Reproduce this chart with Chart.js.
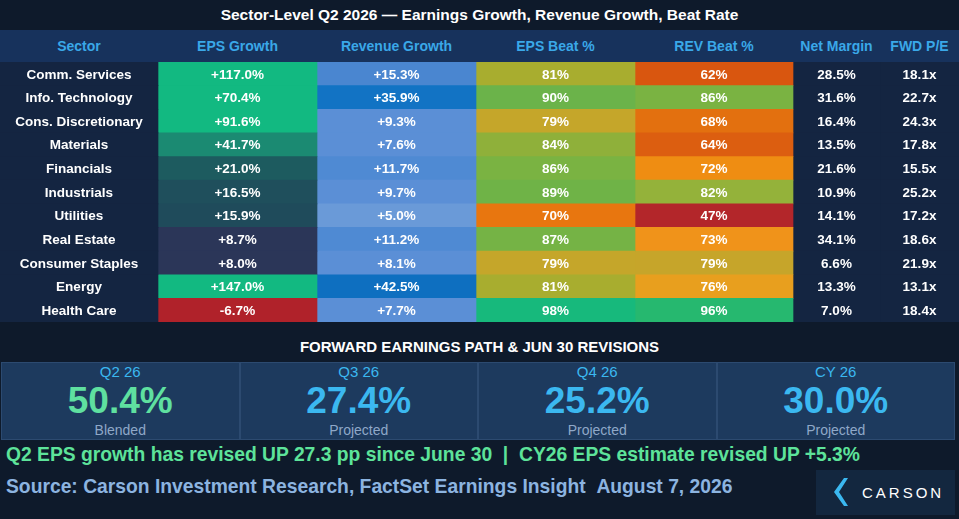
<!DOCTYPE html>
<html><head><meta charset="utf-8">
<script src="https://cdn.jsdelivr.net/npm/chart.js@4/dist/chart.umd.min.js"></script>
<style>
body{margin:0;width:959px;height:519px;background:#0e1a2b;font-family:"Liberation Sans",Arial,sans-serif;overflow:hidden;position:relative}
.abs{position:absolute}
#title{left:0;top:0;width:959px;height:30px;line-height:30px;text-align:center;color:#fff;font-weight:bold;font-size:15.5px}
#hdr{left:0;top:30px;width:959px;height:32px;background:#17325c}
#hdr div{position:absolute;top:0;height:32px;line-height:32px;text-align:center;color:#3aa8e8;font-weight:bold;font-size:14px}
#wrap{left:0;top:62px;width:959px;height:260px}
#sub{left:0;top:338px;width:959px;text-align:center;color:#fff;font-weight:bold;font-size:15px}
.pan{position:absolute;top:362px;height:78px;background:#1d3a5e;border:1px solid #2c4a70;box-sizing:border-box;text-align:center}
.pan .l{color:#3bb8f0;font-size:15px}
.pan .v{font-size:37px;font-weight:bold;color:#3bb8f0;line-height:42px}
.pan .s{color:#8fa8c8;font-size:14px}
#l1{left:6px;top:444px;color:#5de39a;font-weight:bold;font-size:19.3px;white-space:nowrap}
#l2{left:6px;top:476px;color:#8cb4e0;font-weight:bold;font-size:19.3px;white-space:nowrap}
#logo{left:816px;top:470px;width:139px;height:45px;background:#13273f;color:#fff;font-size:15px;letter-spacing:3px;line-height:45px}
</style></head><body>
<div id="title" class="abs">Sector-Level Q2 2026 — Earnings Growth, Revenue Growth, Beat Rate</div>
<div id="hdr" class="abs"></div>
<div id="wrap" class="abs"><canvas id="c"></canvas></div>
<div id="sub" class="abs">FORWARD EARNINGS PATH &amp; JUN 30 REVISIONS</div>
<div id="pans"></div>
<div id="l1" class="abs">Q2 EPS growth has revised UP 27.3 pp since June 30 &nbsp;|&nbsp; CY26 EPS estimate revised UP +5.3%</div>
<div id="l2" class="abs">Source: Carson Investment Research, FactSet Earnings Insight &nbsp;August 7, 2026</div>
<div id="logo" class="abs"><svg width="30" height="45" style="vertical-align:top;margin-left:10px"><polygon points="18,8 8,22 18,36 22,36 13,22 22,8" fill="#3bb8f0"/></svg><span style="margin-left:6px">CARSON</span></div>
<script>
const headers=["Sector","EPS Growth","Revenue Growth","EPS Beat %","REV Beat %","Net Margin","FWD P/E"];
const sectors=["Comm. Services","Info. Technology","Cons. Discretionary","Materials","Financials","Industrials","Utilities","Real Estate","Consumer Staples","Energy","Health Care"];
const epsGrowth=[117.0,70.4,91.6,41.7,21.0,16.5,15.9,8.7,8.0,147.0,-6.7];
const revGrowth=[15.3,35.9,9.3,7.6,11.7,9.7,5.0,11.2,8.1,42.5,7.7];
const epsBeat=[81,90,79,84,86,89,70,87,79,81,98];
const revBeat=[62,86,68,64,72,82,47,73,79,76,96];
const netMargin=[28.5,31.6,16.4,13.5,21.6,10.9,14.1,34.1,6.6,13.3,7.0];
const fwdPE=[18.1,22.7,24.3,17.8,15.5,25.2,17.2,18.6,21.9,13.1,18.4];
const epsColors=["#12b981","#12b981","#12b981","#1b8a72","#1d5b5f","#1f4f5c","#1f4b5b","#2b3658","#2b3658","#12b981","#b0222a"];
const revColors=["#4a86d0","#1273c4","#5b8fd6","#5b8fd6","#4f8ad3","#5b8fd6","#6a9ad8","#4f8ad3","#5b8fd6","#0e6fc0","#5b8fd6"];
const epsBeatColors=["#a8ad2f","#6bb34a","#c5a62a","#8fb03a","#7ab342","#6fb347","#e8760f","#75b345","#c5a62a","#a8ad2f","#17b97c"];
const revBeatColors=["#d9560f","#7ab342","#e3700f","#dc5e10","#ef8d12","#94b23a","#b3262a","#f0931a","#c6a52a","#e89f1e","#26b86f"];
const panelLabels=["Q2 26","Q3 26","Q4 26","CY 26"];
const panelValues=[50.4,27.4,25.2,30.0];
const panelSubs=["Blended","Projected","Projected","Projected"];

const edges=[0,158,317,476,635,793,880,959];
const hdr=document.getElementById('hdr');
headers.forEach((h,i)=>{const d=document.createElement('div');d.style.left=edges[i]+'px';d.style.width=(edges[i+1]-edges[i])+'px';d.textContent=h;hdr.appendChild(d);});
const pans=document.getElementById('pans');
panelLabels.forEach((l,i)=>{const d=document.createElement('div');d.className='pan';d.style.left=(i*238.5+1)+'px';d.style.width='238.5px';
d.innerHTML=`<div class="l">${l}</div><div class="v" style="color:${i==0?'#5fe0a0':'#3bb8f0'}">${panelValues[i].toFixed(1)}%</div><div class="s">${panelSubs[i]}</div>`;pans.appendChild(d);});

const sign=v=>(v>=0?'+':'')+v.toFixed(1)+'%';
const dark=sectors.map(()=> "#142541");
const cols=[
 {bg:dark,txt:sectors},
 {bg:epsColors,txt:epsGrowth.map(sign)},
 {bg:revColors,txt:revGrowth.map(sign)},
 {bg:epsBeatColors,txt:epsBeat.map(v=>v+'%')},
 {bg:revBeatColors,txt:revBeat.map(v=>v+'%')},
 {bg:dark,txt:netMargin.map(v=>v.toFixed(1)+'%')},
 {bg:dark,txt:fwdPE.map(v=>v.toFixed(1)+'x')}
];
const datasets=cols.map((c,i)=>({data:sectors.map(()=>[edges[i],edges[i+1]]),backgroundColor:c.bg,txt:c.txt,borderWidth:0,barPercentage:1,categoryPercentage:1}));
const textPlugin={id:'t',afterDatasetsDraw(ch){const ctx=ch.ctx;ctx.save();ctx.fillStyle='#fff';ctx.font='bold 13.5px "Liberation Sans", Arial';ctx.textAlign='center';ctx.textBaseline='middle';
 ch.data.datasets.forEach((ds,i)=>{ch.getDatasetMeta(i).data.forEach((b,j)=>{ctx.fillText(ds.txt[j],(b.x+b.base)/2,b.y+1);});});ctx.restore();}};
new Chart(document.getElementById('c'),{type:'bar',data:{labels:sectors,datasets},
options:{indexAxis:'y',responsive:true,maintainAspectRatio:false,animation:false,layout:{padding:0},
plugins:{legend:{display:false},tooltip:{enabled:false}},
scales:{x:{display:false,min:0,max:959,stacked:false},y:{display:false,stacked:true}}},plugins:[textPlugin]});
</script></body></html>
